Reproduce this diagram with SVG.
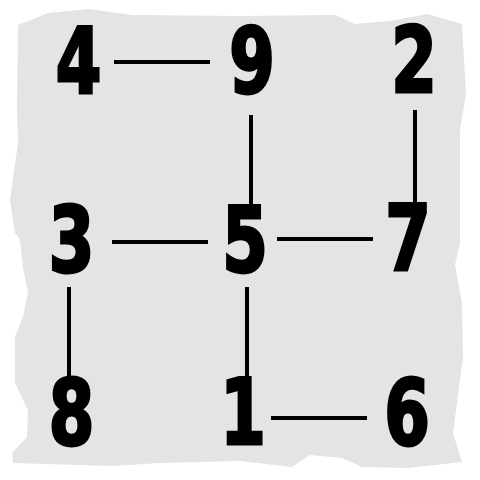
<svg xmlns="http://www.w3.org/2000/svg" width="480" height="480" viewBox="0 0 480 480">
<style>
.n{font-family:"DejaVu Sans Condensed","DejaVu Sans",sans-serif;font-weight:bold;font-size:91px;fill:#000;text-anchor:middle;stroke:#000;stroke-width:3px;stroke-linejoin:miter}
.c line{stroke:#000;stroke-width:4}
</style>
<rect width="480" height="480" fill="#fff"/>
<path d="M18,25 L48,13 L88,9 L133,15 L240,16 L335,15 L355,24 L390,21 L427,14 L462,24 L466,95 L460,130 L460,243 L455,265 L462,303 L463,357 L453,433 L462,462 L408,468 L362,467 L342,458 L310,455 L292,467 L240,461 L160,463 L112,466 L13,463 L12,453 L27,437 L28,410 L15,383 L15,337 L23,317 L28,292 L23,268 L20,240 L15,233 L10,200 L18,143 L17,110 Z" fill="#e4e4e4"/>
<g class="c" id="connectors">
<line x1="114" y1="62" x2="210" y2="62"/>
<line x1="251" y1="115" x2="251" y2="207"/>
<line x1="415" y1="110" x2="415" y2="206"/>
<line x1="112" y1="242" x2="208" y2="242"/>
<line x1="277" y1="239" x2="373" y2="239"/>
<line x1="69" y1="287" x2="69" y2="379"/>
<line x1="247" y1="287" x2="247" y2="381"/>
<line x1="271" y1="418" x2="367" y2="418"/>
</g>
<g id="n4"><text class="n" transform="translate(78.5,93) scale(0.8,1)">4</text></g>
<g id="n9"><text class="n" transform="translate(252,93) scale(0.8,1)">9</text></g>
<g id="n2"><text class="n" transform="translate(414,92) scale(0.8,1)">2</text></g>
<g id="n3"><text class="n" transform="translate(71.5,272) scale(0.8,1)">3</text></g>
<g id="n5"><text class="n" transform="translate(245,272) scale(0.8,1)">5</text></g>
<g id="n7"><text class="n" transform="translate(408,270) scale(0.8,1)">7</text></g>
<g id="n8"><text class="n" transform="translate(71.5,445) scale(0.8,1)">8</text></g>
<g id="n1"><text class="n" transform="translate(243,444) scale(0.8,1)">1</text></g>
<g id="n6"><text class="n" transform="translate(407,445) scale(0.8,1)">6</text></g>
</svg>
